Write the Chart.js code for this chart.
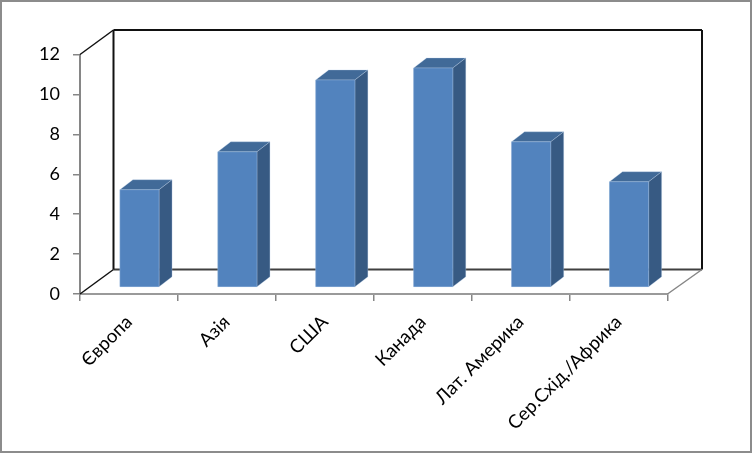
<!DOCTYPE html>
<html><head><meta charset="utf-8">
<style>html,body{margin:0;padding:0;background:#fff}#w{position:absolute;left:0;top:0;width:752px;height:453px}</style>
<script src="https://cdn.jsdelivr.net/npm/chart.js@4"></script>
</head><body><div id="w"><canvas id="c" width="752" height="453"></canvas></div>
<script>
const categories = ['Європа','Азія','США','Канада','Лат. Америка','Сер.Схід./Африка'];
const values = [4.9,6.8,10.4,11,7.3,5.3];
const yTicks = [0,2,4,6,8,10,12];

const wallDxL = 33.5, wallDxR = 34.5, wallDy = -24.5;   // depth of the 3D box
const barShiftX = 10.5, barShiftY = -6.5; // bars stand mid-depth
const barDx = 13, barDy = -10;

function line(ctx,x1,y1,x2,y2,color,w){
  ctx.beginPath();ctx.moveTo(x1,y1);ctx.lineTo(x2,y2);ctx.strokeStyle=color;ctx.lineWidth=w;ctx.stroke();
}
function poly(ctx,pts,fill,edge){
  ctx.beginPath();pts.forEach((p,i)=>i?ctx.lineTo(p[0],p[1]):ctx.moveTo(p[0],p[1]));ctx.closePath();
  ctx.fillStyle=fill;ctx.fill();
  if(edge){ctx.strokeStyle=edge;ctx.lineWidth=0.8;ctx.stroke();}
}
const box3d = {
  id:'box3d',
  beforeDatasetsDraw(chart){
    const {ctx,chartArea:a}=chart;
    const L=a.left,R=a.right,T=a.top,B=a.bottom;
    ctx.save();
    line(ctx,L+wallDxL,B+wallDy,R+wallDxR,B+wallDy,'#404040',2);
    line(ctx,L,T,L+wallDxL,T+wallDy,'#111',1.5);
    line(ctx,L,B,L+wallDxL,B+wallDy,'#111',1.5);
    line(ctx,L+wallDxL,T+wallDy,L+wallDxL,B+wallDy,'#111',2);
    line(ctx,L+wallDxL,T+wallDy,R+wallDxR,T+wallDy,'#111',2);
    line(ctx,R+wallDxR,T+wallDy,R+wallDxR,B+wallDy,'#111',2);
    line(ctx,R,B,R+wallDxR,B+wallDy,'#868686',1.5);
    ctx.restore();
    ctx.save();
    ctx.translate(barShiftX,barShiftY);
  },
  afterDatasetsDraw(chart){
    const ctx=chart.ctx;
    chart.getDatasetMeta(0).data.forEach(el=>{
      const p=el.getProps(['x','y','base','width'],true);
      const l=p.x-p.width/2,r=p.x+p.width/2;
      const edge='rgba(190,210,235,0.4)';
      poly(ctx,[[l,p.y],[l+barDx,p.y+barDy],[r+barDx,p.y+barDy],[r,p.y]],'#416A98',edge);
      poly(ctx,[[r,p.y],[r+barDx,p.y+barDy],[r+barDx,p.base+barDy],[r,p.base]],'#375A83',edge);
      poly(ctx,[[l,p.y],[r,p.y],[r,p.base],[l,p.base]],'#5283BE',edge);
    });
    ctx.restore();
  }
};
const frame = {
  id:'frame',
  afterDraw(chart){
    const ctx=chart.ctx;
    ctx.save();ctx.strokeStyle='#8c8c8c';ctx.lineWidth=2;
    ctx.strokeRect(1,1,750,451);ctx.restore();
  }
};
new Chart(document.getElementById('c'),{
  type:'bar',
  data:{labels:categories,datasets:[{data:values,backgroundColor:'#5283BE',borderWidth:0,
    barPercentage:0.4,categoryPercentage:1,clip:false}]},
  plugins:[box3d,frame],
  options:{
    responsive:false,animation:false,devicePixelRatio:1,
    layout:{padding:{top:54.5,right:84.5,left:0,bottom:0}},
    plugins:{legend:{display:false},tooltip:{enabled:false},title:{display:false}},
    scales:{
      x:{
        afterFit(s){s.height=159;},
        grid:{drawOnChartArea:false,drawTicks:true,tickLength:7,color:'#868686',lineWidth:1.5},
        border:{color:'#9a9a9a',width:2},
        ticks:{autoSkip:false,minRotation:45,maxRotation:45,color:'#000',font:{family:'Lato',size:18.7},padding:10}
      },
      y:{
        min:0,max:12,
        afterFit(s){s.width=80;},
        afterBuildTicks(s){s.ticks=yTicks.map(v=>({value:v}));},
        grid:{drawOnChartArea:false,drawTicks:true,tickLength:7,color:'#868686',lineWidth:1.5},
        border:{color:'#868686',width:2},
        ticks:{color:'#000',font:{family:'Lato',size:18},padding:13}
      }
    }
  }
});
</script></body></html>
